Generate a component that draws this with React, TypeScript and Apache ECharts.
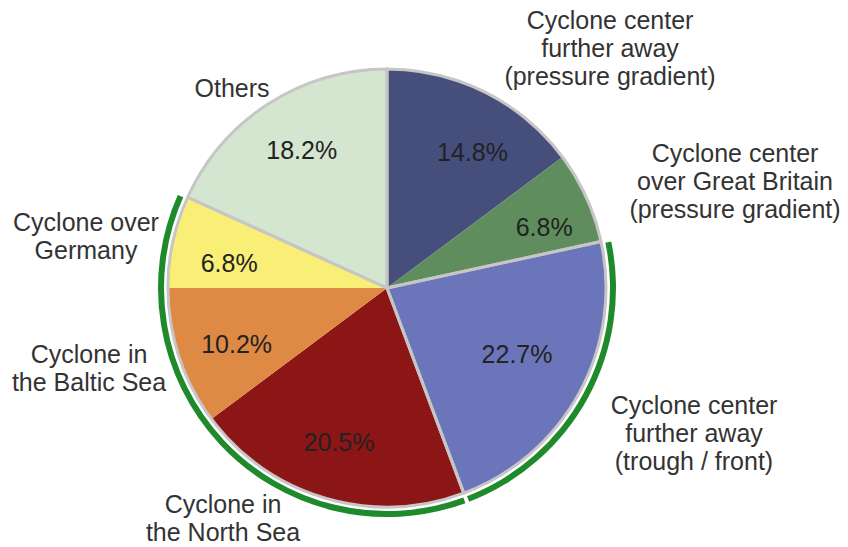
import React, { useEffect, useRef } from "react";
import * as echarts from "echarts";

// ---- data ----
const categories = [
  "Cyclone center\nfurther away\n(pressure gradient)",
  "Cyclone center\nover Great Britain\n(pressure gradient)",
  "Cyclone center\nfurther away\n(trough / front)",
  "Cyclone in\nthe North Sea",
  "Cyclone in\nthe Baltic Sea",
  "Cyclone over\nGermany",
  "Others",
];
const shares = [14.8, 6.8, 22.7, 20.5, 10.2, 6.8, 18.2];
// slices outlined together (grey frame)
const frameGroups = [[0, 1], [2], [3, 4, 5], [6]];
// frame groups marked with the green outer arc
const greenArcGroups = [false, true, true, false];

// ---- styles / layout ----
const sliceColors = ["#464f7c", "#5f8d5d", "#6a76b9", "#8c1515", "#de8a45", "#f9ee76", "#d4e5d0"];
const namePos = [
  [610, 48],
  [735, 181],
  [694, 433],
  [223, 518],
  [89, 368],
  [86, 236],
  [232, 88],
];
const pctNudge = [
  [14, 7],
  [12, 5],
  [-10, -10],
  [-3, 1],
  [1, 6],
  [-2, 9],
  [1, -4],
];
const CENTER = [387, 288];
const R = 219;
const FONT = "'Liberation Sans', Arial, sans-serif";

export default function App() {
  const ref = useRef<HTMLDivElement>(null);
  useEffect(() => {
    if (!ref.current) return;
    const chart = echarts.init(ref.current, null, { renderer: "svg" });
    const groupValues = frameGroups.map((g) => g.reduce((s, i) => s + shares[i], 0));
    const common = {
      type: "pie",
      center: CENTER,
      startAngle: 90,
      clockwise: true,
      silent: true,
      emphasis: { disabled: true },
      avoidLabelOverlap: false,
    };
    chart.setOption({
      animation: false,
      backgroundColor: "#ffffff",
      series: [
        {
          ...common,
          name: "slices",
          radius: [0, R],
          data: shares.map((v, i) => ({
            name: categories[i],
            value: v,
            itemStyle: { color: sliceColors[i], borderWidth: 0 },
          })),
          label: {
            show: true,
            position: "outside",
            formatter: (p: any) => p.name,
            color: "#333333",
            fontFamily: FONT,
            fontSize: 25,
            lineHeight: 28,
          },
          labelLine: { show: false },
          labelLayout: (p: any) => ({
            x: namePos[p.dataIndex][0],
            y: namePos[p.dataIndex][1],
            align: "center",
            verticalAlign: "middle",
          }),
        },
        {
          ...common,
          name: "frame",
          radius: [0, R],
          data: groupValues.map((v, i) => ({
            name: "g" + i,
            value: v,
            itemStyle: {
              color: "rgba(0,0,0,0)",
              borderColor: "#c6c6c6",
              borderWidth: 3,
            },
          })),
          label: { show: false },
          labelLine: { show: false },
        },
        {
          ...common,
          name: "percent",
          radius: [94, R],
          data: shares.map((v, i) => ({
            name: categories[i],
            value: v,
            itemStyle: { color: "rgba(0,0,0,0)", borderWidth: 0 },
          })),
          label: {
            show: true,
            position: "inside",
            formatter: (p: any) => p.value.toFixed(1) + "%",
            color: "#222222",
            fontFamily: FONT,
            fontSize: 25,
          },
          labelLine: { show: false },
          labelLayout: (p: any) => ({
            dx: pctNudge[p.dataIndex][0],
            dy: pctNudge[p.dataIndex][1],
          }),
        },
        {
          ...common,
          name: "arc",
          radius: [R + 4, R + 10],
          padAngle: 1,
          data: groupValues.map((v, i) => ({
            name: "a" + i,
            value: v,
            itemStyle: {
              color: greenArcGroups[i] ? "#1f8a2b" : "rgba(0,0,0,0)",
              borderWidth: 0,
            },
          })),
          label: { show: false },
          labelLine: { show: false },
        },
      ],
    });
    return () => chart.dispose();
  }, []);
  return (
    <div
      ref={ref}
      style={{ position: "fixed", left: 0, top: 0, width: 848, height: 547, background: "#fff" }}
    />
  );
}
